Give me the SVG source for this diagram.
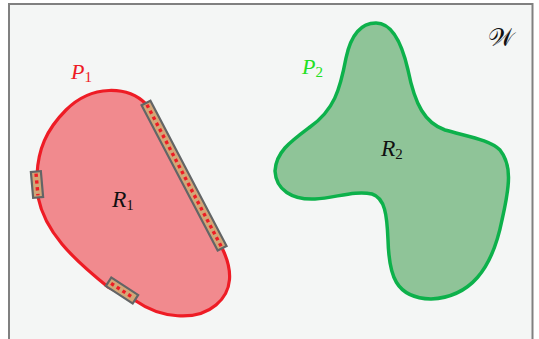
<svg xmlns="http://www.w3.org/2000/svg" width="539" height="339" viewBox="0 0 539 339">
<style>
.lbl{font-family:"Liberation Serif",serif;font-style:italic;font-size:22px}
.big{font-size:23.5px}
.sub{font-size:15px;font-style:normal}
.strip{fill:#d3a677;stroke:#636566;stroke-width:2.2}
.dots{stroke:#ee1c25;stroke-width:3.4;stroke-dasharray:3.4 3.4;fill:none}
</style>
<rect x="0" y="0" width="539" height="339" fill="#ffffff"/>
<rect x="9" y="4" width="523.5" height="340" fill="#f4f6f5" stroke="#808080" stroke-width="2"/>
<g id="P1">
<path d="M146,104 C128,86 92,84 66,110 C46,130 38,150 37,175 L38,197 C45,232 72,258 108,287 L136,301 C160,318 196,322 216,305 C233,291 233,270 222,248 Z" fill="#f18a8e" stroke="#ee1c25" stroke-width="3.2" stroke-linejoin="round"/>
<g transform="translate(146,103) rotate(62.35)">
<rect class="strip" x="0" y="-5" width="164" height="10"/>
<line class="dots" x1="2" y1="0" x2="162" y2="0"/>
</g>
<g transform="translate(37,184.5) rotate(-5)">
<rect class="strip" x="-5" y="-13" width="10" height="26"/>
<line class="dots" x1="0" y1="-11" x2="0" y2="11"/>
</g>
<g transform="translate(122,290.5) rotate(33)">
<rect class="strip" x="-16" y="-5" width="32" height="10"/>
<line class="dots" x1="-13" y1="0" x2="13" y2="0"/>
</g>
<text class="lbl" x="71" y="79" fill="#ee1c25">P<tspan class="sub" dy="3">1</tspan></text>
<text class="lbl big" x="112" y="207" fill="#111">R<tspan class="sub" dy="3">1</tspan></text>
</g>
<g id="P2">
<path d="M376,23 C365,23 352,30 346,58 C340,90 334,110 310,127 C290,142 276,152 275,171 C276,190 292,200 315,199 C335,198 355,190 372,194 C385,198 387,215 388,240 C389,275 395,298 431,299 C470,297 492,270 502,220 C510,185 512,165 500,150 C490,140 470,137 445,130 C425,123 415,105 408,70 C400,35 388,23 376,23 Z" fill="#8fc498" stroke="#0db14b" stroke-width="3.5" stroke-linejoin="round"/>
<text class="lbl" x="302" y="74" fill="#22e022">P<tspan class="sub" dy="3">2</tspan></text>
<text class="lbl big" x="381" y="156" fill="#111">R<tspan class="sub" dy="3">2</tspan></text>
</g>
<text x="488" y="46" fill="#111" style="font-family:'DejaVu Serif','Noto Sans',serif;font-size:25px">𝒲</text>
</svg>
